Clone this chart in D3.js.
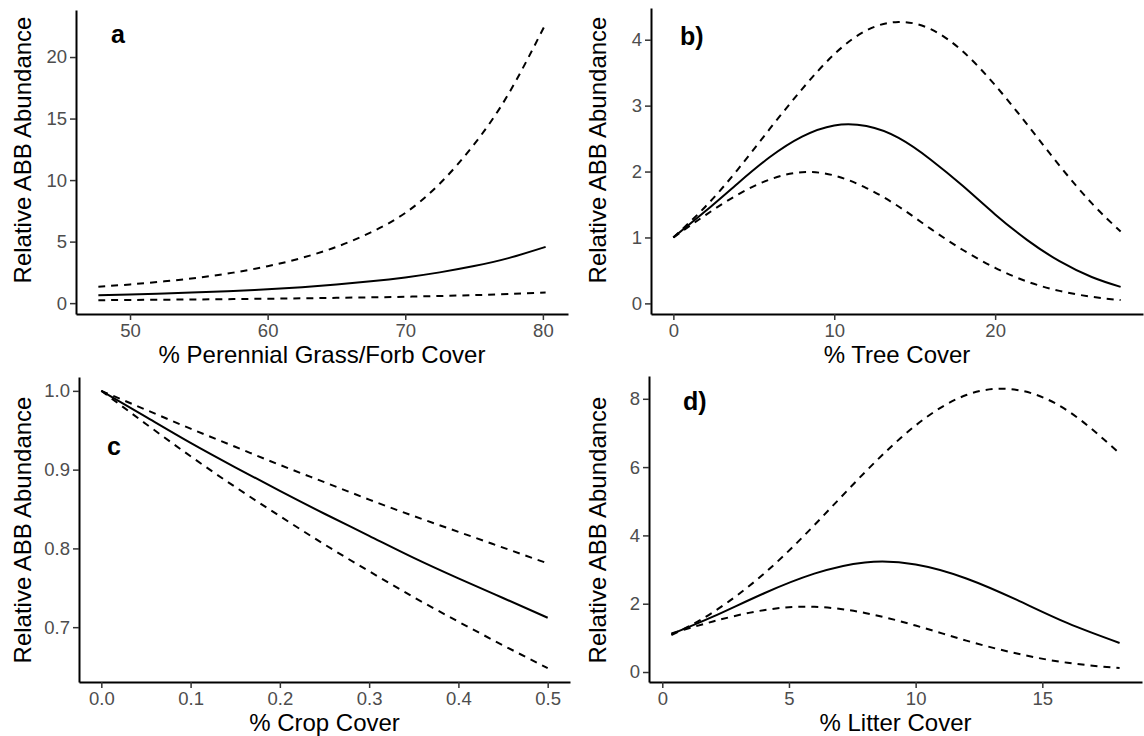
<!DOCTYPE html>
<html>
<head>
<meta charset="utf-8">
<script src="https://cdn.jsdelivr.net/npm/d3@7/dist/d3.min.js"></script>
<style>
  html, body { margin: 0; padding: 0; background: #fff; }
  svg { display: block; font-family: "Liberation Sans", Arial, sans-serif; }
</style>
</head>
<body>
<svg id="chart" width="1144" height="736"></svg>
<script>
// ---------- Data ----------
// Panel a: % Perennial Grass/Forb Cover
const grassX     = [47.7, 50, 52.5, 55, 57.5, 60, 62.5, 65, 67.5, 70, 72.5, 75, 77.5, 80.2];
const grassFit   = [0.65, 0.71, 0.79, 0.88, 0.99, 1.13, 1.30, 1.51, 1.77, 2.09, 2.50, 3.01, 3.66, 4.57];
const grassUpper = [1.34, 1.52, 1.77, 2.08, 2.48, 3.00, 3.68, 4.57, 5.75, 7.33, 9.7, 12.9, 17.0, 22.7];
const grassLower = [0.24, 0.26, 0.28, 0.30, 0.33, 0.36, 0.39, 0.43, 0.47, 0.52, 0.58, 0.65, 0.74, 0.87];
const grassXTicks = [50, 60, 70, 80];
const grassYTicks = [0, 5, 10, 15, 20];

// Panel b: % Tree Cover
const treeX     = [0, 2, 4, 6, 8, 10, 12, 14, 16, 18, 20, 22, 24, 26, 27.8];
const treeFit   = [1.00, 1.40, 1.82, 2.22, 2.53, 2.70, 2.69, 2.51, 2.18, 1.78, 1.35, 0.96, 0.64, 0.40, 0.25];
const treeUpper = [1.00, 1.47, 2.03, 2.65, 3.25, 3.78, 4.14, 4.27, 4.16, 3.82, 3.31, 2.71, 2.09, 1.52, 1.09];
const treeLower = [1.00, 1.34, 1.65, 1.88, 1.99, 1.94, 1.75, 1.47, 1.13, 0.81, 0.54, 0.33, 0.19, 0.10, 0.05];
const treeXTicks = [0, 10, 20];
const treeYTicks = [0, 1, 2, 3, 4];

// Panel c: % Crop Cover
const cropX     = [0, 0.05, 0.1, 0.15, 0.2, 0.25, 0.3, 0.35, 0.4, 0.45, 0.5];
const cropFit   = [1.000, 0.967, 0.934, 0.903, 0.873, 0.844, 0.816, 0.788, 0.762, 0.737, 0.712];
const cropUpper = [1.000, 0.976, 0.952, 0.929, 0.906, 0.884, 0.862, 0.841, 0.821, 0.801, 0.781];
const cropLower = [1.000, 0.958, 0.917, 0.878, 0.841, 0.805, 0.771, 0.738, 0.707, 0.677, 0.648];
const cropXTicks = [0, 0.1, 0.2, 0.3, 0.4, 0.5];
const cropYTicks = [0.7, 0.8, 0.9, 1.0];

// Panel d: % Litter Cover
const litterX     = [0.36, 2, 4, 6, 8, 10, 12, 14, 16, 18.05];
const litterFit   = [1.11, 1.62, 2.30, 2.88, 3.21, 3.15, 2.74, 2.11, 1.43, 0.85];
const litterUpper = [1.08, 1.75, 2.87, 4.30, 5.85, 7.22, 8.11, 8.26, 7.65, 6.40];
const litterLower = [1.13, 1.48, 1.81, 1.91, 1.73, 1.36, 0.92, 0.54, 0.27, 0.115];
const litterXTicks = [0, 5, 10, 15];
const litterYTicks = [0, 2, 4, 6, 8];

const yTitle = "Relative ABB Abundance";

// ---------- Drawing ----------
const svg = d3.select("#chart");

function expand(ext) {
  const pad = (ext[1] - ext[0]) * 0.05;
  return [ext[0] - pad, ext[1] + pad];
}

function drawPanel(p) {
  const g = svg.append("g");
  const xs = d3.scaleLinear().domain(expand(d3.extent(p.x))).range([p.x0, p.x1]);
  const allY = p.fit.concat(p.upper, p.lower);
  const ys = d3.scaleLinear().domain(expand(d3.extent(allY))).range([p.y1, p.y0]);

  const line = d3.line()
    .x(d => xs(d[0]))
    .y(d => ys(d[1]))
    .curve(d3.curveNatural);

  const series = [
    { v: p.upper, dash: "7,6" },
    { v: p.lower, dash: "7,6" },
    { v: p.fit, dash: null }
  ];
  series.forEach(s => {
    g.append("path")
      .datum(p.x.map((xv, i) => [xv, s.v[i]]))
      .attr("d", line)
      .attr("fill", "none")
      .attr("stroke", "#000")
      .attr("stroke-width", 2)
      .attr("stroke-dasharray", s.dash);
  });

  const xAxis = g.append("g")
    .attr("transform", `translate(0,${p.y1})`)
    .call(d3.axisBottom(xs).tickValues(p.xt).tickSize(6).tickPadding(4).tickSizeOuter(0).tickFormat(p.fmt));
  const yAxis = g.append("g")
    .attr("transform", `translate(${p.x0},0)`)
    .call(d3.axisLeft(ys).tickValues(p.yt).tickSize(6).tickPadding(3).tickSizeOuter(0).tickFormat(p.yfmt));

  [xAxis, yAxis].forEach(ax => {
    ax.select(".domain").attr("stroke", "#000").attr("stroke-width", 2);
    ax.selectAll(".tick line").attr("stroke", "#333").attr("stroke-width", 1.5);
    ax.selectAll(".tick text")
      .attr("fill", "#4d4d4d")
      .style("font-size", "18.5px")
      .style("font-family", '"Liberation Sans", Arial, sans-serif');
  });

  g.append("text")
    .attr("x", (p.x0 + p.x1) / 2)
    .attr("y", p.y1 + 49)
    .attr("text-anchor", "middle")
    .style("font-size", "24px")
    .attr("fill", "#000")
    .text(p.xTitle);

  g.append("text")
    .attr("transform", `translate(${p.ytx},${p.ytc}) rotate(-90)`)
    .attr("text-anchor", "middle")
    .style("font-size", "24px")
    .attr("fill", "#000")
    .text(yTitle);

  g.append("text")
    .attr("x", p.lx)
    .attr("y", p.ly)
    .style("font-size", "25px")
    .style("font-weight", "bold")
    .attr("fill", "#000")
    .text(p.label);
}

drawPanel({
  x: grassX, fit: grassFit, upper: grassUpper, lower: grassLower,
  xt: grassXTicks, yt: grassYTicks, fmt: d3.format("d"), yfmt: d3.format("d"),
  x0: 76, x1: 568, y0: 10, y1: 314,
  xTitle: "% Perennial Grass/Forb Cover", ytx: 31, ytc: 150,
  label: "a", lx: 111, ly: 43
});

drawPanel({
  x: treeX, fit: treeFit, upper: treeUpper, lower: treeLower,
  xt: treeXTicks, yt: treeYTicks, fmt: d3.format("d"), yfmt: d3.format("d"),
  x0: 651, x1: 1143, y0: 8, y1: 314,
  xTitle: "% Tree Cover", ytx: 606, ytc: 150,
  label: "b)", lx: 680, ly: 45
});

drawPanel({
  x: cropX, fit: cropFit, upper: cropUpper, lower: cropLower,
  xt: cropXTicks, yt: cropYTicks, fmt: d3.format(".1f"), yfmt: d3.format(".1f"),
  x0: 79, x1: 570, y0: 377, y1: 682,
  xTitle: "% Crop Cover", ytx: 31, ytc: 530,
  label: "c", lx: 107, ly: 455
});

drawPanel({
  x: litterX, fit: litterFit, upper: litterUpper, lower: litterLower,
  xt: litterXTicks, yt: litterYTicks, fmt: d3.format("d"), yfmt: d3.format("d"),
  x0: 649, x1: 1142, y0: 376, y1: 682,
  xTitle: "% Litter Cover", ytx: 606, ytc: 530,
  label: "d)", lx: 683, ly: 410
});
</script>
</body>
</html>
